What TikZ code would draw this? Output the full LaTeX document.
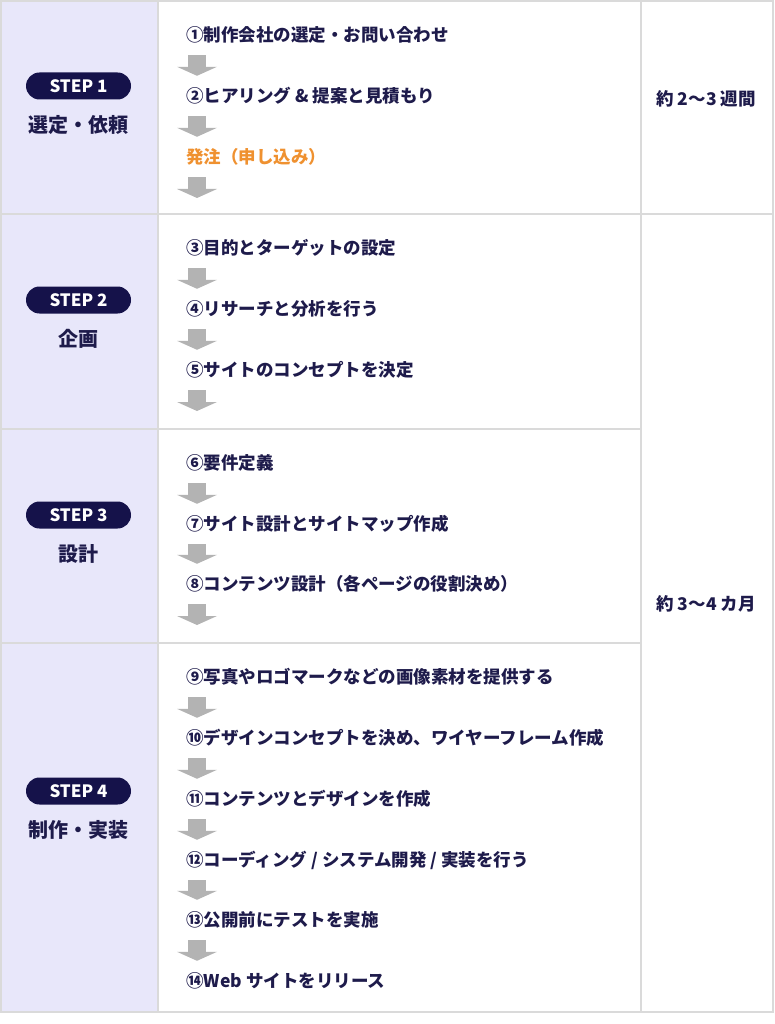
\documentclass[tikz,border=0pt]{standalone}
\usepackage{fontspec}
\setmainfont{Noto Sans CJK JP}
\usepackage{xcolor}
\usetikzlibrary{arrows.meta,positioning}
\definecolor{navy}{HTML}{1E1B4B}
\definecolor{pill-navy}{HTML}{15124A}
\definecolor{lavender}{HTML}{E8E7FA}
\definecolor{rule-gray}{HTML}{DADADA}
\definecolor{arrow-gray}{HTML}{B3B3B3}
\definecolor{order-orange}{HTML}{EF9130}
\tikzset{
    cell-rule/.style = {draw=rule-gray, line width=1.5pt},
    step-pill/.style = {fill=pill-navy, text=white, rounded corners=13.5pt, minimum width=105pt, minimum height=27pt, inner sep=0pt, font=\fontsize{17}{17}\selectfont\bfseries},
    step-title/.style = {text=navy, inner sep=0pt, text height=17pt, text depth=3pt, font=\fontsize{20}{20}\selectfont\bfseries},
    task/.style = {text=navy, anchor=west, inner sep=0pt, text height=13pt, text depth=0pt, font=\fontsize{17.5}{17.5}\selectfont\bfseries},
    period/.style = {text=navy, inner sep=0pt, font=\fontsize{17.5}{17.5}\selectfont\bfseries},
    flow-arrow/.style = {draw=arrow-gray, line width=18pt, -{Triangle[width=40pt, length=9pt, line width=0pt]}, shorten <=13.5pt, shorten >=13.5pt},
}

\begin{document}
\begin{tikzpicture}[x=1pt, y=-1pt]
\useasboundingbox (0,0) rectangle (775,1024);

% table
\fill[lavender] (1,1) rectangle (158,1012);
\draw[cell-rule] (1,1) rectangle (773,1012);
\draw[cell-rule] (158,1) -- (158,1012);
\draw[cell-rule] (641,1) -- (641,1012);
\draw[cell-rule] (1,214) -- (773,214);
\draw[cell-rule] (1,429) -- (641,429);
\draw[cell-rule] (1,643) -- (641,643);

% steps
\node[step-pill] (p1) at (78.5,86) {STEP 1};
\node[step-title, below=16pt of p1] (n1) {選定・依頼};
\node[step-pill] (p2) at (78.5,300) {STEP 2};
\node[step-title, below=16pt of p2] (n2) {企画};
\node[step-pill] (p3) at (78.5,515) {STEP 3};
\node[step-title, below=16pt of p3] (n3) {設計};
\node[step-pill] (p4) at (78.5,791) {STEP 4};
\node[step-title, below=16pt of p4] (n4) {制作・実装};

% tasks
\node[task] (t1) at (186,35) {①制作会社の選定・お問い合わせ};
\node[task] (t2) at (186,96) {②ヒアリング \& 提案と見積もり};
\node[task, text=order-orange] (t3) at (186,157) {発注（申し込み）};
\node[task] (t4) at (186,248) {③目的とターゲットの設定};
\node[task] (t5) at (186,309) {④リサーチと分析を行う};
\node[task] (t6) at (186,370) {⑤サイトのコンセプトを決定};
\node[task] (t7) at (186,463) {⑥要件定義};
\node[task] (t8) at (186,524) {⑦サイト設計とサイトマップ作成};
\node[task] (t9) at (186,584) {⑧コンテンツ設計（各ページの役割決め）};
\node[task] (t10) at (186,677) {⑨写真やロゴマークなどの画像素材を提供する};
\node[task] (t11) at (186,738) {⑩デザインコンセプトを決め、ワイヤーフレーム作成};
\node[task] (t12) at (186,799) {⑪コンテンツとデザインを作成};
\node[task] (t13) at (186,860) {⑫コーディング / システム開発 / 実装を行う};
\node[task] (t14) at (186,920) {⑬公開前にテストを実施};
\node[task] (t15) at (186,981) {⑭Web サイトをリリース};

\coordinate (e3) at (186,211.5);
\coordinate (e6) at (186,424.5);
\coordinate (e9) at (186,638.5);

\foreach \a/\b in {t1/t2, t2/t3, t4/t5, t5/t6, t7/t8, t8/t9, t10/t11, t11/t12, t12/t13, t13/t14, t14/t15}
    \draw[flow-arrow] ([xshift=11pt]\a.south west) -- ([xshift=11pt]\b.north west);
\foreach \a/\b in {t3/e3, t6/e6, t9/e9}
    \draw[flow-arrow] ([xshift=11pt]\a.south west) -- ([xshift=11pt]\b);

% periods
\node[period] (d1) at (706,99) {約 2〜3 週間};
\node[period] (d2) at (706,604) {約 3〜4 カ月};
\end{tikzpicture}
\end{document}
